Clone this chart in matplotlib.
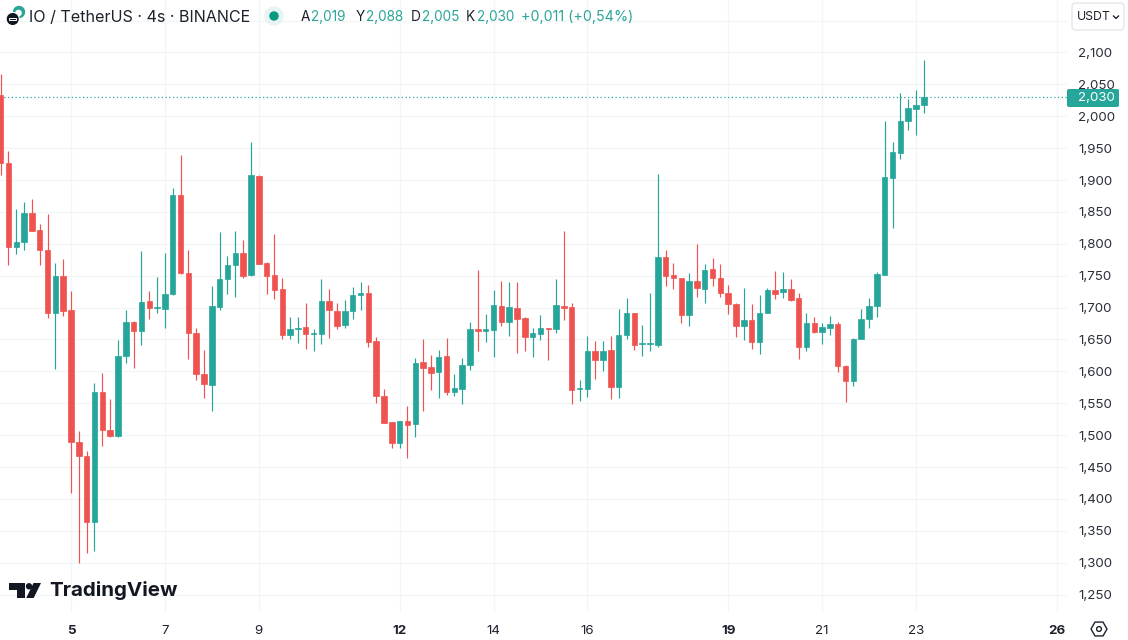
import matplotlib
matplotlib.use("Agg")
import matplotlib.pyplot as plt
from matplotlib.patches import Circle, FancyBboxPatch, Polygon, Rectangle, RegularPolygon

plt.rcParams['font.family'] = ['Inter', 'DejaVu Sans']

# 4h candles
opens = [2034, 1927, 1795.5, 1803, 1848, 1822, 1791, 1691.5, 1749.5, 1696,
         1489.8, 1468, 1364, 1567.6, 1508, 1499, 1624, 1678, 1664, 1710,
         1699, 1698, 1720.8, 1876, 1754, 1660.7, 1596.4, 1578.6, 1700.9, 1744.8,
         1766.8, 1786, 1750.5, 1906.8, 1770.4, 1751.6, 1729.6, 1656.5, 1666, 1669.6,
         1659.2, 1659.2, 1709.9, 1695.2, 1672.2, 1695.2, 1719.3, 1722.9, 1647.7, 1562,
         1520.6, 1487.7, 1521.7, 1517, 1614.2, 1606.4, 1599.6, 1623.6, 1567.7, 1571.9,
         1610, 1666, 1662.8, 1665.4, 1702.5, 1676.9, 1699.4, 1683.2, 1654.5, 1659.2,
         1668, 1666.5, 1703, 1700.5, 1572.4, 1573, 1631.5, 1617.8, 1632.9, 1575.4,
         1657.5, 1690.9, 1642.3, 1642.3, 1641.3, 1778.8, 1750.5, 1746.4, 1688.9, 1741.1,
         1729.6, 1760.5, 1746.4, 1722.8, 1706.1, 1670.6, 1680, 1645.5, 1691, 1727,
         1723.9, 1729.6, 1715, 1638.2, 1676.3, 1662.2, 1668, 1674.8, 1608.9, 1584.9,
         1651.2, 1681.5, 1702, 1751.6, 1903.7, 1942.9, 1993, 2011.9, 2018]
highs = [2066, 1945.5, 1854, 1866, 1870, 1831, 1846, 1769.4, 1776, 1725.5,
         1507, 1475.6, 1581, 1598, 1557, 1649, 1696, 1679, 1788.7, 1726,
         1748.5, 1786, 1887, 1939, 1790, 1667.5, 1633.5, 1734.3, 1818.5, 1780.9,
         1819.6, 1806, 1959, 1908, 1771.5, 1814.8, 1745.8, 1685.7, 1685.7, 1707.2,
         1666, 1744.4, 1728.7, 1706.7, 1712, 1731.8, 1740, 1736, 1654.5, 1571.9,
         1521, 1522, 1546.2, 1621, 1650.3, 1626.2, 1633.5, 1652.4, 1596.4, 1621,
         1676.9, 1759.5, 1690, 1727.1, 1742.3, 1740.2, 1739.7, 1684.8, 1667.5, 1687.9,
         1668, 1745.4, 1820.2, 1706.7, 1586.5, 1656, 1647.7, 1647.6, 1655.4, 1697.2,
         1715.5, 1691, 1672.7, 1722.3, 1909.4, 1790.3, 1769.4, 1746.4, 1753.7, 1799.7,
         1768.8, 1777.2, 1768.8, 1734.9, 1707.7, 1730.2, 1706.1, 1719.7, 1730.2, 1757.3,
         1755.3, 1745.3, 1722.3, 1690.9, 1685.7, 1676.3, 1686.3, 1677.4, 1610, 1652.3,
         1697.8, 1715.5, 1756.3, 1993, 1959.1, 2035.9, 2027, 2041.7, 2088.2]
lows = [1908, 1767, 1784, 1790, 1820, 1767, 1683, 1604, 1687, 1410,
        1300, 1315.7, 1317.8, 1483, 1497, 1497.6, 1612.6, 1605.8, 1642, 1681.6,
        1692, 1668.5, 1719, 1753, 1620, 1586, 1559, 1537.8, 1697, 1720.8,
        1716.6, 1745.8, 1750, 1768, 1721.8, 1713.4, 1650, 1650, 1643.9, 1634.6,
        1632, 1643.5, 1652.9, 1666, 1667.5, 1681.6, 1696.3, 1638.8, 1550.4, 1519,
        1479.9, 1479.9, 1464.7, 1497, 1537.9, 1570.8, 1558.8, 1562.5, 1562, 1548.4,
        1602.7, 1632, 1646.6, 1623, 1671.7, 1655.5, 1628.3, 1632.5, 1623, 1648.7,
        1617.9, 1660.2, 1681.1, 1549.4, 1554.1, 1560.4, 1587.5, 1601, 1557.1, 1558.7,
        1650.7, 1633.5, 1624.6, 1631.9, 1638.7, 1734.3, 1729.1, 1676.3, 1671.1, 1716.6,
        1707.7, 1733.8, 1716.6, 1689.4, 1654.4, 1649.7, 1635.6, 1627.2, 1690.9, 1713.4,
        1715, 1709.8, 1619.3, 1631.4, 1660.6, 1642.3, 1657, 1598.4, 1551.9, 1577,
        1651, 1668, 1684.7, 1751, 1825.3, 1932.4, 1978.5, 1971.1, 2004.6]
closes = [1927, 1795.5, 1803, 1848, 1820, 1791, 1691.5, 1750, 1694.6, 1489,
          1468, 1363.8, 1567.6, 1508, 1498.6, 1624, 1678, 1664, 1708, 1699,
          1701, 1722, 1876, 1754, 1660, 1595.9, 1580, 1702.5, 1745.3, 1766.8,
          1785, 1750, 1908, 1768.8, 1750, 1728, 1656.5, 1665.9, 1668, 1659.2,
          1660.7, 1710.4, 1696.3, 1671.2, 1695.2, 1719.8, 1722.4, 1646.6, 1562, 1519.6,
          1487.7, 1522, 1516.5, 1613.2, 1605.8, 1598, 1622.6, 1567.2, 1573.4, 1610.5,
          1666.5, 1662.8, 1666, 1704.6, 1676.9, 1700.5, 1682.7, 1654.5, 1659.7, 1668,
          1666, 1704.6, 1700, 1570.8, 1574, 1631.5, 1617.9, 1631.9, 1575.4, 1657,
          1690.9, 1641.3, 1644.4, 1644.4, 1778.8, 1749, 1746.4, 1688.9, 1741.1, 1730.7,
          1759.4, 1745.8, 1722.3, 1706.1, 1671.1, 1680.5, 1645.5, 1692, 1727, 1721.8,
          1729.6, 1712.4, 1638.2, 1676.3, 1662.2, 1669.5, 1674.8, 1608.4, 1584.9, 1651.2,
          1682, 1702.5, 1752.1, 1904.2, 1943.4, 1993, 2013, 2018.2, 2030]

date_pos = [9, 21, 33, 51, 63, 75, 93, 105, 117, 135]
date_labels = ['5', '7', '9', '12', '14', '16', '19', '21', '23', '26']
bold_dates = ['5', '12', '19', '26']
price_ticks = list(range(1250, 2151, 50))
last_price = 2030

GREEN = '#26a69a'
RED = '#ef5350'
GRID = '#f4f5f7'
TEXT = '#1e222d'

fig = plt.figure(figsize=(11.28, 6.4), dpi=100, facecolor='white')
ax = fig.add_axes([0, 1 - 612 / 640, 1067 / 1128, 612 / 640])

xs = list(range(len(opens)))
colors = [GREEN if c >= o else RED for o, c in zip(opens, closes)]
bottoms = [min(o, c) for o, c in zip(opens, closes)]
heights = [abs(c - o) for o, c in zip(opens, closes)]

ax.vlines(xs, lows, highs, colors=colors, linewidth=0.85, zorder=3)
ax.bar(xs, heights, bottom=bottoms, width=0.7, color=colors,
       edgecolor=colors, linewidth=0.5, zorder=4)
ax.axhline(last_price, color=GREEN, linewidth=0.9, linestyle=(0, (1, 2)), zorder=2)

ax.set_xlim(-0.077, 136.3)
ax.set_ylim(1222.7, 2182.3)
ax.set_xticks(date_pos)
ax.set_xticklabels(date_labels, fontsize=9.6, color=TEXT)
for lab in ax.get_xticklabels():
    if lab.get_text() in bold_dates:
        lab.set_fontweight('bold')
ax.yaxis.tick_right()
ax.set_yticks(price_ticks)
ax.set_yticklabels([f'{p:,}' if p < 2150 else '' for p in price_ticks],
                   fontsize=9.6, color='#2a2e39')
ax.tick_params(axis='x', length=0, pad=9.3)
ax.tick_params(axis='y', length=0, pad=8)
ax.grid(True, color=GRID, linewidth=1, zorder=0)
ax.set_axisbelow(True)
for s in ax.spines.values():
    s.set_visible(False)

# overlay in pixel coords for the header, logo, price tag and buttons
ov = fig.add_axes([0, 0, 1, 1], facecolor='none')
ov.set_xlim(0, 1128)
ov.set_ylim(640, 0)
ov.axis('off')

# symbol icon
ov.add_patch(Circle((19, 12), 5.5, color='#2aa597'))
ov.add_patch(Circle((18.5, 13), 2.6, color='white'))
ov.add_patch(Circle((12.7, 19), 6.6, fc='#131722', ec='white', lw=0.8))
ov.add_patch(Rectangle((9, 18), 7.4, 2, fc='none', ec='white', lw=0.7))

ov.text(29, 17, 'IO / TetherUS · 4s · BINANCE', fontsize=11.6, color=TEXT, va='center')
ov.add_patch(Circle((274, 16), 9, color='#e6f4f2'))
ov.add_patch(Circle((274, 16), 4, color='#089981'))

for x, s in [(301, 'A'), (356, 'Y'), (411, 'D'), (466, 'K')]:
    ov.text(x, 17, s, fontsize=9.8, color=TEXT, va='center')
for x, s, fs in [(311, '2,019', 9.8), (366, '2,088', 9.8), (422, '2,005', 9.8),
                 (477, '2,030', 9.8), (521, '+0,011 (+0,54%)', 10.3)]:
    ov.text(x, 17, s, fontsize=fs, color='#2aa597', va='center')

# USDT button
ov.add_patch(FancyBboxPatch((1075, 6), 46, 21, boxstyle='round,pad=3,rounding_size=4',
                            fc='white', ec='#e4e6ec', lw=1))
ov.text(1077, 17, 'USDT', fontsize=8.8, color=TEXT, va='center')
ov.plot([1113.5, 1116, 1118.5], [16, 18.5, 16], color=TEXT, lw=1)

# last price tag
ov.add_patch(FancyBboxPatch((1068, 90), 50, 16, boxstyle='round,pad=1,rounding_size=2',
                            fc=GREEN, ec='none'))
ov.text(1078, 98, f'{last_price:,}', fontsize=9.6, color='white', va='center')

# settings hexagon
ov.add_patch(RegularPolygon((1099, 629), 6, radius=8, orientation=0.5236,
                            fc='none', ec=TEXT, lw=1))
ov.add_patch(Circle((1099, 629), 2.4, fc='none', ec=TEXT, lw=1))

# TradingView logo
ov.add_patch(Polygon([(9, 583), (25, 583), (25, 598), (17, 598), (17, 590), (9, 590)],
                     fc='#131722', lw=0))
ov.add_patch(Circle((29, 586.3), 3.2, fc='#131722', lw=0))
ov.add_patch(Polygon([(33.5, 583), (41, 583), (33.7, 598), (26.2, 598)], fc='#131722', lw=0))
ov.text(49, 591, 'TradingView', fontsize=14.8, fontweight='bold',
        color='#131722', va='center')

fig.savefig('out.png', dpi=100)
